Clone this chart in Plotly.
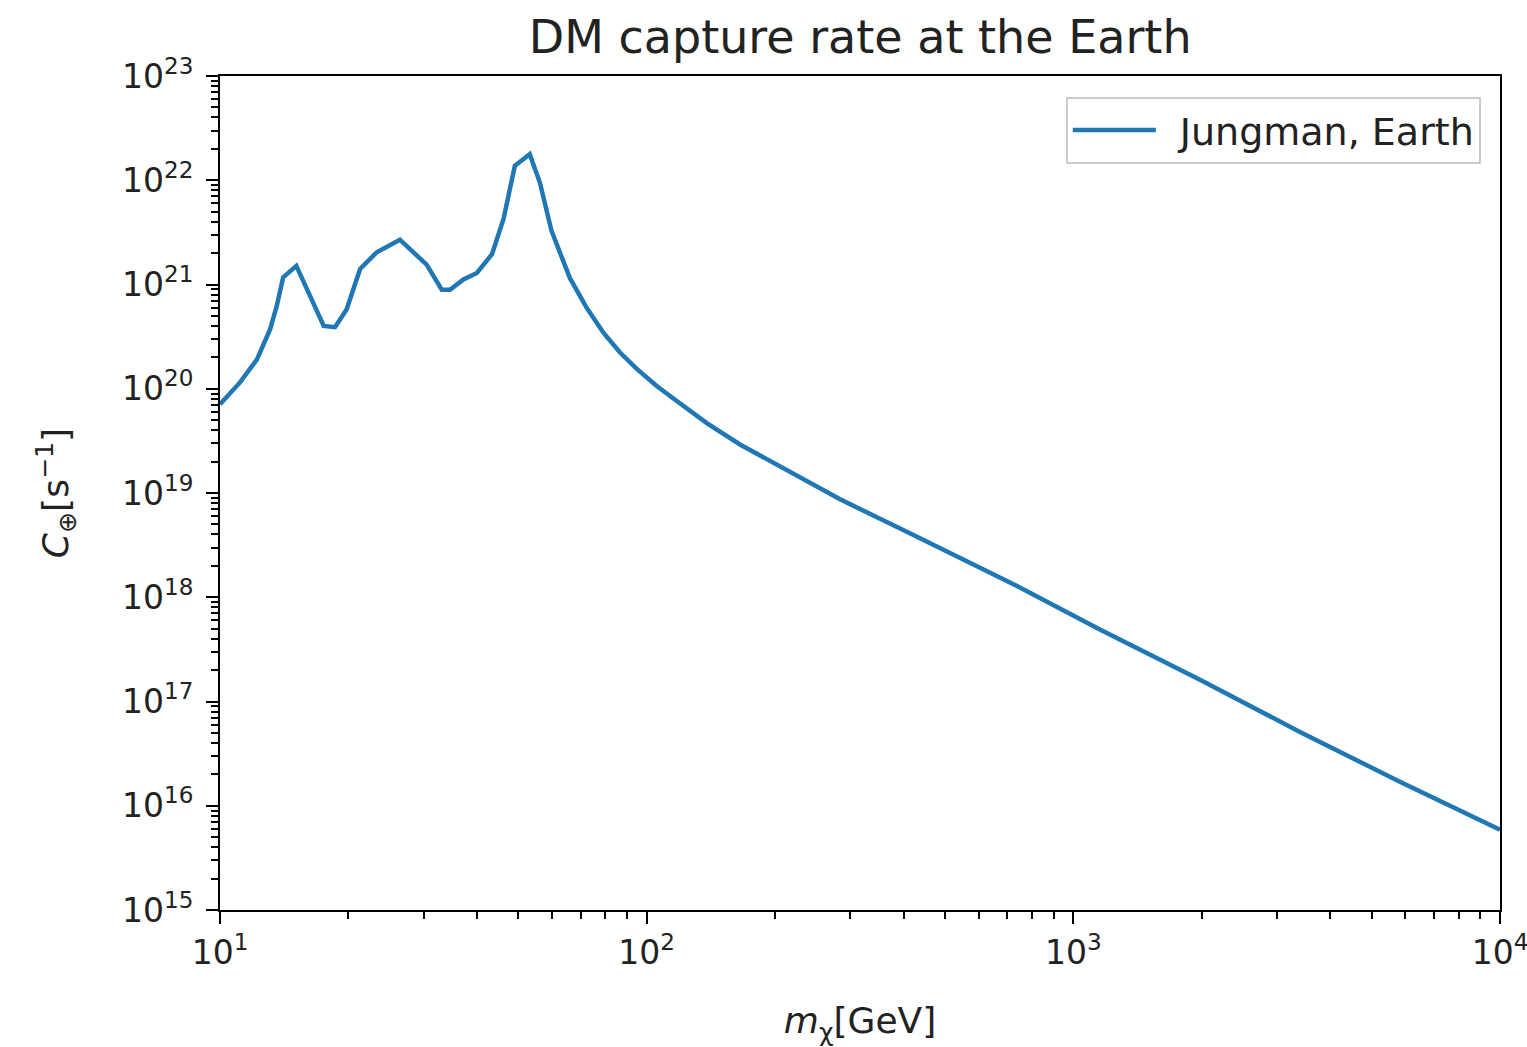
import plotly.graph_objects as go

# DM mass [GeV]
mass_gev = [10.0, 11.14, 12.2, 13.1, 13.58, 14.06, 15.1, 17.5, 18.6, 19.8, 21.3, 23.3,
            26.4, 30.5, 33.1, 34.6, 37.2, 40.0, 43.4, 46.2, 49.1, 53.2, 56.2, 59.8,
            62.7, 66.1, 68.5, 72.3, 79.1, 86.5, 94.8, 105.4, 115.3, 138.3, 165.5,
            198.3, 237.3, 284.0, 406.0, 736.0, 1154.0, 1981.0, 3397.0, 5826.0, 10000.0]
# capture rate [1/s]
capture_rate = [7.1e19, 1.15e20, 1.9e20, 3.7e20, 6.2e20, 1.17e21, 1.51e21, 4.0e20,
                3.9e20, 5.75e20, 1.41e21, 2.04e21, 2.69e21, 1.55e21, 8.9e20, 8.9e20,
                1.12e21, 1.29e21, 1.95e21, 4.27e21, 1.38e22, 1.78e22, 9.5e21, 3.3e21,
                2.0e21, 1.15e21, 8.9e20, 6.0e20, 3.47e20, 2.24e20, 1.55e20, 1.07e20,
                8.1e19, 4.68e19, 2.92e19, 1.95e19, 1.29e19, 8.7e18, 4.27e18, 1.29e18,
                4.9e17, 1.62e17, 5.1e16, 1.7e16, 5.9e15]

series_name = "Jungman, Earth"
title_text = "DM capture rate at the Earth"
x_tick_vals = [1e1, 1e2, 1e3, 1e4]
x_tick_text = ["10<sup>1</sup>", "10<sup>2</sup>", "10<sup>3</sup>", "10<sup>4</sup>"]
y_tick_vals = [10.0 ** e for e in range(15, 24)]
y_tick_text = ["10<sup>%d</sup>" % e for e in range(15, 24)]

FONT = "DejaVu Sans"

fig = go.Figure()
fig.add_trace(go.Scatter(x=mass_gev, y=capture_rate, mode="lines",
                         name="\u2002" + series_name,
                         line=dict(color="#1f77b4", width=4.5)))

fig.update_layout(
    width=1527, height=1047,
    margin=dict(l=220, r=27, t=76, b=137),
    paper_bgcolor="white", plot_bgcolor="white",
    font=dict(family=FONT, color="#222222", size=30),
    title=dict(text=title_text, x=0.5633, xanchor="center", y=0.965, yanchor="middle",
               font=dict(size=46, color="#222222")),
    showlegend=True,
    legend=dict(x=0.985, xanchor="right", y=0.975, yanchor="top",
                bgcolor="white", bordercolor="#cccccc", borderwidth=2,
                font=dict(size=38, color="#222222"), itemwidth=83),
)

fig.update_xaxes(type="log", range=[1, 4], tickmode="array", tickvals=x_tick_vals,
                 ticktext=x_tick_text, ticks="outside", ticklen=12, tickwidth=2,
                 tickcolor="black", showline=True, linecolor="black", linewidth=2,
                 mirror=True, showgrid=False, zeroline=False, automargin=False,
                 tickfont=dict(size=33), ticklabeloverflow="allow",
                 minor=dict(ticks="outside", ticklen=7, tickwidth=1.5, tickcolor="black",
                            dtick="D1", showgrid=False),
                 title=dict(text="<i>m</i><sub>χ</sub>[GeV]", font=dict(size=36), standoff=38))
fig.update_yaxes(type="log", range=[15, 23], tickmode="array", tickvals=y_tick_vals,
                 ticktext=y_tick_text, ticks="outside", ticklen=12, tickwidth=2,
                 tickcolor="black", showline=True, linecolor="black", linewidth=2,
                 mirror=True, showgrid=False, zeroline=False,
                 tickfont=dict(size=33), ticklabelstandoff=6,
                 minor=dict(ticks="outside", ticklen=7, tickwidth=1.5, tickcolor="black",
                            dtick="D1", showgrid=False),
                 title=dict(text="<i>C</i><sub>⊕</sub>[s<sup>−1</sup>]", font=dict(size=36),
                            standoff=42))

fig.write_html("out.html")
